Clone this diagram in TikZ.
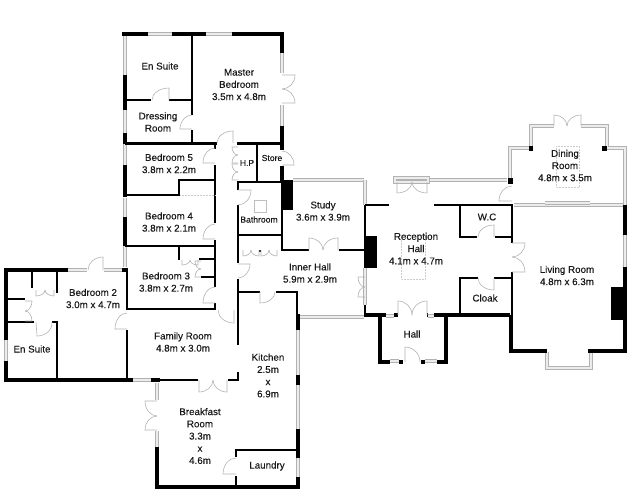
\documentclass[tikz,border=0pt]{standalone}
\usepackage{fontspec}
\setmainfont[FakeBold=0.25]{Liberation Sans}
\usetikzlibrary{calc}

\tikzset{
  wall/.style={line width=4.5pt,black},
  thinwall/.style={line width=2.6pt,black},
  glazing/.style={draw=gray!60,double=gray!15,double distance=2.8pt,line width=.6pt},
  doorleaf/.style={draw=gray!60,line width=.6pt},
  skylight/.style={draw=gray!40,line width=.5pt,densely dotted},
  roomlabel/.style={font=\fontsize{9.8}{12.2}\selectfont,align=center,text=black!90},
}

\begin{document}
\begin{tikzpicture}[x=1pt,y=-1pt]
  \useasboundingbox (0,0) rectangle (630,501);

  % windows
  \foreach \xa/\ya/\xb/\yb in {148/34/172/34, 206/34/232/34, 125/34/125/75, 125/110/125/133,
      125/144/125/165, 125/198/125/217, 125/246/125/267, 282/53/282/73, 282/105/282/126,
      68/270/87/270, 104/270/122/270, 6/340/6/361, 133/380/151/380, 157/383/157/400,
      157/431/157/447, 298/330/298/375, 298/385/298/429, 298/458/298/477,
      293/180/364/180, 298/317/364/317, 428/180/507/180, 365/180/365/205, 365/268/365/305,
      386/316/394/316, 428/316/434/316, 390/361/399/361, 425/361/437/361,
      514/205/623/205, 545/203/590/203, 625/235/625/267}
    \draw[glazing] (\xa,\ya) -- (\xb,\yb);
  \draw[glazing] (510,180) -- (510,148) -- (531,148) -- (531,126) -- (554,126);
  \draw[glazing] (581,126) -- (607,126) -- (607,148) -- (625,148) -- (625,205);
  \draw[glazing] (547,352) -- (547,368) -- (591,368) -- (591,352);
  \draw[glazing] (395,178) rectangle (428,182);

  % outer walls
  \draw[wall] (122,34) -- (148,34);
  \draw[wall] (172,34) -- (206,34);
  \draw[wall] (232,34) -- (282,34) -- (282,53);
  \draw[wall] (125,75) -- (125,110);
  \draw[wall] (125,133) -- (125,144);
  \draw[wall] (125,165) -- (125,197);
  \draw[wall] (125,217) -- (125,246);
  \draw[wall] (282,126) -- (282,150);
  \draw[wall] (282,166) -- (282,182);
  \draw[wall] (122,270) -- (128,270);
  \draw[wall] (68,270) -- (6,270) -- (6,340);
  \draw[wall] (6,361) -- (6,380) -- (133,380);
  \draw[wall] (151,380) -- (160,380);
  \draw[wall] (298,314) -- (298,330);
  \draw[wall] (298,375) -- (298,385);
  \draw[wall] (157,447) -- (157,487) -- (298,487) -- (298,477);
  \draw[wall] (298,458) -- (298,429);
  \draw[wall] (364,315) -- (386,315);
  \draw[wall] (394,315) -- (398,315);
  \draw[wall] (427,315) -- (428,315);
  \draw[wall] (434,315) -- (510,315);
  \draw[wall] (380,315) -- (380,362) -- (390,362);
  \draw[wall] (399,362) -- (403,362);
  \draw[wall] (421,362) -- (425,362);
  \draw[wall] (437,362) -- (446,362) -- (446,315);
  \draw[wall] (511,315) -- (511,351) -- (547,351);
  \draw[wall] (588,351) -- (625,351) -- (625,267);
  \draw[wall] (625,205) -- (625,235);

  % inner walls
  \draw[thinwall] (192,34) -- (192,115);
  \draw[thinwall] (192,130) -- (192,143);
  \draw[thinwall] (125,100) -- (151,100);
  \draw[thinwall] (169,100) -- (192,100);
  \draw[thinwall] (125,143.5) -- (217,143.5);
  \draw[thinwall] (237,143.5) -- (282,143.5);
  \draw[thinwall] (215,143) -- (215,149);
  \draw[thinwall] (257,143) -- (257,182);
  \draw[thinwall] (238,190) -- (238,182) -- (282,182);
  \draw[thinwall] (215,165) -- (215,223);
  \draw[thinwall] (125,195) -- (179,195) -- (179,180) -- (215,180);
  \draw[thinwall] (125,246) -- (215,246);
  \draw[thinwall] (215,240) -- (215,287);
  \draw[thinwall] (215,303) -- (215,309) -- (127,309) -- (127,270);
  \draw[thinwall] (179,246) -- (179,260);
  \draw[thinwall] (199,259) -- (215,259);
  \draw[thinwall] (201,277) -- (215,277);
  \draw[thinwall] (127,330) -- (127,378);
  \draw[thinwall] (238,205) -- (238,263);
  \draw[thinwall] (238,279) -- (238,345);
  \draw[thinwall] (238,372) -- (238,380) -- (228,380);
  \draw[thinwall] (160,380) -- (198,380);
  \draw[thinwall] (238,235) -- (282,235);
  \draw[thinwall] (282,182) -- (282,250) -- (309,250);
  \draw[thinwall] (339,250) -- (365,250);
  \draw[thinwall] (238,292) -- (260,292);
  \draw[thinwall] (276,292) -- (297,292) -- (297,314);
  \draw[thinwall] (32,270) -- (32,288);
  \draw[thinwall] (57,270) -- (57,293);
  \draw[thinwall] (6,299) -- (25,299);
  \draw[thinwall] (6,322) -- (34,322);
  \draw[thinwall] (52,322) -- (57,322) -- (57,380);
  \draw[thinwall] (236,457) -- (236,450) -- (298,450);
  \draw[thinwall] (236,476) -- (236,487);
  \draw[thinwall] (365,205) -- (389,205);
  \draw[thinwall] (365,205) -- (365,268);
  \draw[thinwall] (365,305) -- (365,315);
  \draw[thinwall] (434,205) -- (512,205) -- (512,243);
  \draw[thinwall] (460,205) -- (460,237) -- (477,237);
  \draw[thinwall] (495,237) -- (512,237);
  \draw[thinwall] (460,315) -- (460,278) -- (478,278);
  \draw[thinwall] (494,278) -- (512,278);
  \draw[thinwall] (512,272) -- (512,315);

  % chimneys and posts
  \fill[black] (282,180) rectangle (293,210);
  \fill[black] (366,236) rectangle (377,268);
  \fill[black] (611,287) rectangle (624,320);
  \fill[black] (508,178) rectangle (513,184);
  \fill[black] (529,146) rectangle (533,151);
  \fill[black] (602,146) rectangle (607,151);
  \fill[black] (259,250) rectangle (261,252);

  % skylights
  \draw[draw=gray!50,line width=.5pt] (254,200) rectangle (266,212);
  \draw[skylight] (401,235) rectangle (425,279);
  \draw[skylight] (556,146) rectangle (579,187);
  \draw[skylight] (180,195.5) -- (215,195.5);

  % doors: hinge / tip of leaf / end of swing
  \foreach \hx/\hy/\tx/\ty/\ex/\ey in {169/100/169/88/152/100, 192/129/180/129/192/115,
      233/143/233/131/217/143, 215/163/203/163/215/148, 282/165/294/165/282/151,
      238/190/251/190/238/205, 215/239/203/239/215/224, 215/303/203/303/215/287,
      238/264/250/264/238/278, 234/310/234/323/218/310, 127/329/115/329/127/313,
      260/292/260/303/275/292, 236/474/223/474/236/458, 405/362/405/347/420/362,
      494/237/494/225/478/237, 494/278/494/290/478/278, 512/201/499/201/512/186,
      103/270/103/257/88/270, 36/322/37/336/52/322,
      % french doors
      282/75/295/75/282/89, 282/103/295/103/282/89,
      199/380/199/392/213/380, 227/380/227/392/213/380,
      157/401/145/401/157/416, 157/430/145/430/157/416,
      309/250/309/238/323/250, 338/250/338/238/323/250,
      397/182/397/193/412/182, 427/182/427/193/412/182,
      398/315/398/301/412/315, 427/315/427/301/412/315,
      512/243/525/243/512/257, 512/272/525/272/512/257,
      554/126/554/115/567/126, 581/126/581/115/567/126,
      % folding doors
      238/147/232/147/238/155, 238/163/232/163/238/155,
      238/164/232/164/238/172, 238/180/232/180/238/172,
      243/250/243/256/251/250, 259/250/259/256/251/250,
      261/250/261/256/269/250, 277/250/277/256/269/250,
      182/260/182/265/190/260, 198/260/198/265/190/260,
      201/261/195/261/201/269, 201/277/195/277/201/269,
      365/277/358/277/365/287, 365/297/358/297/365/287,
      36/290/36/296/45/290, 54/290/54/296/45/290,
      25/301/32/301/25/311, 25/321/32/321/25/311}
    \draw[doorleaf] (\hx,\hy) -- (\tx,\ty)
      .. controls ($(\tx,\ty)+.55*(\ex,\ey)-.55*(\hx,\hy)$) and ($(\ex,\ey)+.55*(\tx,\ty)-.55*(\hx,\hy)$) .. (\ex,\ey);

  % room names
  \node[roomlabel] (ensuite upper) at (160,66) {En Suite};
  \node[roomlabel] (master) at (239,84.5) {Master\\Bedroom\\3.5m x 4.8m};
  \node[roomlabel] (dressing) at (158,122) {Dressing\\Room};
  \node[roomlabel] (bedroom five) at (169,163.5) {Bedroom 5\\3.8m x 2.2m};
  \node[roomlabel,font=\fontsize{8.6}{10}\selectfont] (hp) at (247,163) {H.P};
  \node[roomlabel,font=\fontsize{8.6}{10}\selectfont] (store) at (272,158) {Store};
  \node[roomlabel,font=\fontsize{8.6}{10}\selectfont] (bathroom) at (259,219.5) {Bathroom};
  \node[roomlabel] (bedroom four) at (169,222) {Bedroom 4\\3.8m x 2.1m};
  \node[roomlabel] (bedroom three) at (166,282) {Bedroom 3\\3.8m x 2.7m};
  \node[roomlabel] (bedroom two) at (93,298.5) {Bedroom 2\\3.0m x 4.7m};
  \node[roomlabel] (ensuite lower) at (32,349) {En Suite};
  \node[roomlabel] (family) at (183,342) {Family Room\\4.8m x 3.0m};
  \node[roomlabel] (kitchen) at (268,375.5) {Kitchen\\2.5m\\x\\6.9m};
  \node[roomlabel] (breakfast) at (200,436) {Breakfast\\Room\\3.3m\\x\\4.6m};
  \node[roomlabel] (laundry) at (267,466) {Laundry};
  \node[roomlabel] (study) at (323,211) {Study\\3.6m x 3.9m};
  \node[roomlabel] (inner hall) at (310,273) {Inner Hall\\5.9m x 2.9m};
  \node[roomlabel] (reception) at (416,248.5) {Reception\\Hall\\4.1m x 4.7m};
  \node[roomlabel] (wc) at (487,217) {W.C};
  \node[roomlabel] (cloak) at (485,298) {Cloak};
  \node[roomlabel] (hall) at (412,334) {Hall};
  \node[roomlabel] (dining) at (565,165.5) {Dining\\Room\\4.8m x 3.5m};
  \node[roomlabel] (living) at (567,275.5) {Living Room\\4.8m x 6.3m};

\end{tikzpicture}
\end{document}
